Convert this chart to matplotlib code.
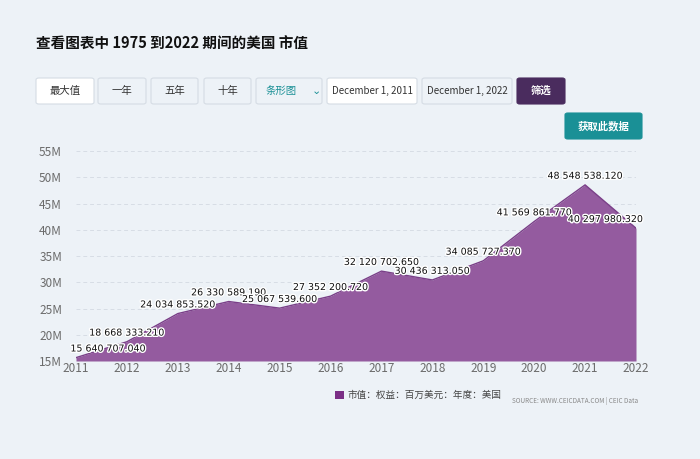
import matplotlib.pyplot as plt
import matplotlib.patheffects as pe
from matplotlib.patches import FancyBboxPatch, Rectangle

plt.rcParams['font.family'] = ['Noto Sans CJK SC', 'DejaVu Sans']

# Datos
years = [2011, 2012, 2013, 2014, 2015, 2016, 2017, 2018, 2019, 2020, 2021, 2022]
values = [15640707.040, 18668333.210, 24034853.520, 26330589.190, 25067539.600,
          27352200.720, 32120702.650, 30436313.050, 34085727.370, 41569861.770,
          48548538.120, 40297980.320]
labels = ['15 640 707.040', '18 668 333.210', '24 034 853.520', '26 330 589.190',
          '25 067 539.600', '27 352 200.720', '32 120 702.650', '30 436 313.050',
          '34 085 727.370', '41 569 861.770', '48 548 538.120', '40 297 980.320']
yticks = [15e6, 20e6, 25e6, 30e6, 35e6, 40e6, 45e6, 50e6, 55e6]
ytick_labels = ['15M', '20M', '25M', '30M', '35M', '40M', '45M', '50M', '55M']
buttons = ['最大值', '一年', '五年', '十年']

bg = '#edf2f7'
W, H = 700, 459
fig = plt.figure(figsize=(7, 4.59), dpi=100, facecolor=bg)


def fx(px):
    return px / W


def fy(py):
    return 1 - py / H


# Título
fig.text(fx(36), fy(44), '查看图表中 1975 到2022 期间的美国 市值', fontsize=10.5,
         fontweight='bold', color='#111111', va='center')


def button(x0, x1, y0, y1, face, text, tcolor, edge='#d5dce4', bold=False, fs=7.5):
    p = FancyBboxPatch((fx(x0), fy(y1)), fx(x1 - x0), (y1 - y0) / H,
                       boxstyle='round,pad=0,rounding_size=0.004',
                       transform=fig.transFigure, facecolor=face,
                       edgecolor=edge, linewidth=0.8)
    fig.patches.append(p)
    fig.text(fx((x0 + x1) / 2), fy((y0 + y1) / 2), text, fontsize=fs,
             color=tcolor, ha='center', va='center',
             fontweight='bold' if bold else 'normal')


# Botones
xs = [(36, 94), (98, 146), (151, 198), (204, 251)]
for i, (b, (a0, a1)) in enumerate(zip(buttons, xs)):
    button(a0, a1, 78, 104, 'white' if i == 0 else bg, b, '#333333')
button(256, 322, 78, 104, bg, '', '#333333')
fig.text(fx(266), fy(91), '条形图', fontsize=7.5, color='#1a9096', va='center')
fig.text(fx(316), fy(91), '⌄', fontsize=8, color='#1a9096', va='center', ha='center')
button(327, 417, 78, 104, 'white', 'December 1, 2011', '#333333', fs=7)
button(422, 512, 78, 104, bg, 'December 1, 2022', '#333333', fs=7)
button(517, 565, 78, 104, '#4a2c5e', '筛选', 'white', edge='#4a2c5e', bold=True)
button(565, 642, 113, 139, '#1a9096', '获取此数据', 'white', edge='#1a9096', bold=True)

# Gráfico
ax = fig.add_axes([fx(76), fy(361), fx(636 - 76), (361 - 151) / H])
ax.set_facecolor(bg)
ax.fill_between(years, values, 15e6, color='#945b9f', linewidth=0)
ax.plot(years, values, color='#7a3f88', linewidth=1)
ax.set_xlim(2011, 2022)
ax.set_ylim(15e6, 55e6)
ax.set_yticks(yticks)
ax.set_yticklabels(ytick_labels)
ax.set_xticks(years)
ax.set_xticklabels([str(y) for y in years])
ax.tick_params(axis='both', length=0, labelsize=8.5, colors='#6b6b6b')
ax.tick_params(axis='y', pad=10)
ax.tick_params(axis='x', pad=1)
for s in ax.spines.values():
    s.set_visible(False)
ax.grid(axis='y', color='#d7dde5', linestyle=(0, (4, 3)), linewidth=0.7)
ax.set_axisbelow(True)

stroke = [pe.withStroke(linewidth=2, foreground='white')]
for i, (x, v, t) in enumerate(zip(years, values, labels)):
    ha = 'center'
    dx = 0
    if i == 0:
        ha, dx = 'left', -4
    elif i == len(years) - 1:
        ha, dx = 'right', 5
    ax.annotate(t, (x, v), xytext=(dx, 3), textcoords='offset points',
                ha=ha, va='bottom', fontsize=6.8, color='#111111',
                family='DejaVu Sans', path_effects=stroke, annotation_clip=False)

# Leyenda
fig.patches.append(Rectangle((fx(335), fy(399)), fx(9), 8 / H,
                             transform=fig.transFigure, facecolor='#7b2f86',
                             edgecolor='none'))
fig.text(fx(348), fy(395), '市值：权益：百万美元：年度：美国', fontsize=6.9,
         color='#444444', va='center')
fig.text(fx(512), fy(401), 'SOURCE: WWW.CEICDATA.COM | CEIC Data', fontsize=4.6,
         color='#888888', va='center')

fig.savefig('out.png', dpi=100, facecolor=bg)
